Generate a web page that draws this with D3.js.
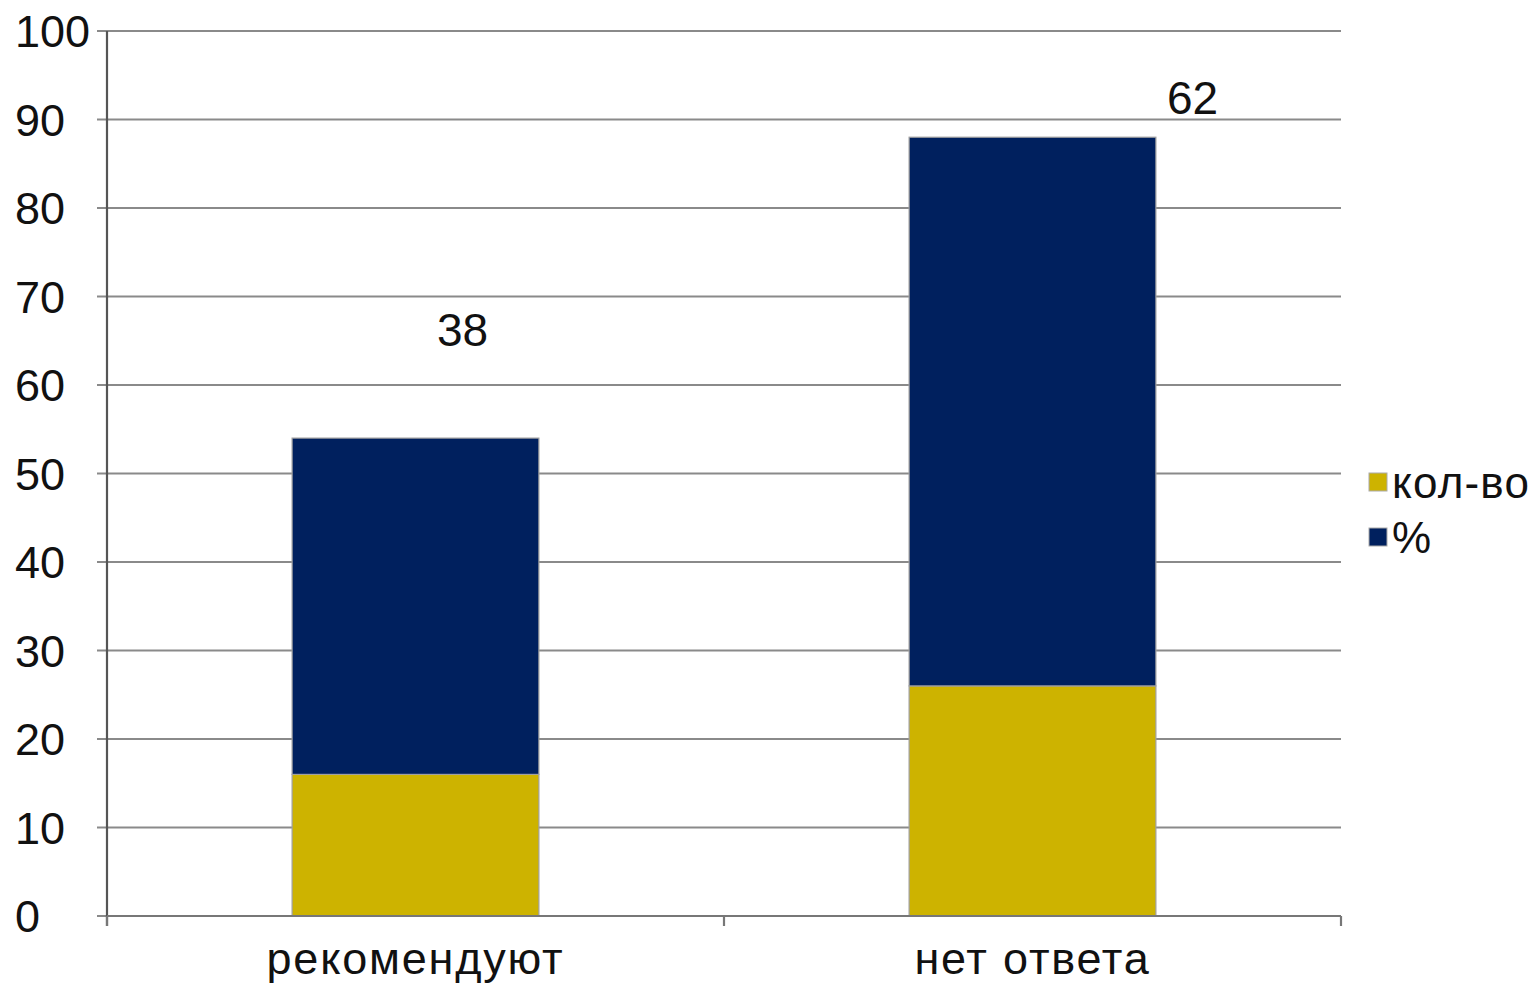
<!DOCTYPE html>
<html><head><meta charset="utf-8">
<script src="https://cdn.jsdelivr.net/npm/d3@7"></script>
<style>html,body{margin:0;padding:0;background:#fff;}svg{display:block;}</style>
</head><body>
<svg id="c" width="1539" height="984"></svg>
<script>
const categories = ["рекомендуют", "нет ответа"];
const seriesNames = ["кол-во", "%"];
const kolvo = [16, 26];
const percent = [38, 62];
const yTicks = [0, 10, 20, 30, 40, 50, 60, 70, 80, 90, 100];

const colors = {"кол-во": "#CDB300", "%": "#00205E"};
const font = "'Liberation Sans', Arial, sans-serif";
const mLeft = 107, mRight = 1341, mTop = 31, mBottom = 916;

const svg = d3.select("#c");
const x = d3.scaleBand().domain(categories).range([mLeft, mRight]).paddingInner(0).paddingOuter(0);
const y = d3.scaleLinear().domain([0, 100]).range([mBottom, mTop]);

// gridlines
svg.append("g").selectAll("line").data(yTicks).join("line")
  .attr("x1", mLeft - 10).attr("x2", mRight)
  .attr("y1", d => y(d)).attr("y2", d => y(d))
  .attr("stroke", "#8a8a8a").attr("stroke-width", 2.2);

// y tick labels (left aligned)
svg.append("g").selectAll("text").data(yTicks).join("text")
  .attr("x", 15).attr("y", d => y(d)).attr("dy", "0.36em")
  .attr("font-family", font).attr("font-size", 45).attr("fill", "#111")
  .text(d => d);

// stacked bars
const rows = categories.map((c, i) => ({cat: c, "кол-во": kolvo[i], "%": percent[i]}));
const stack = d3.stack().keys(seriesNames)(rows);
const bw = x.bandwidth() * 0.4;
svg.append("g").selectAll("g").data(stack).join("g")
  .attr("fill", d => colors[d.key])
  .selectAll("rect").data(d => d).join("rect")
  .attr("x", d => x(d.data.cat) + (x.bandwidth() - bw) / 2)
  .attr("width", bw)
  .attr("y", d => y(d[1]))
  .attr("height", d => y(d[0]) - y(d[1]))
  .attr("stroke", "#a0a0a0").attr("stroke-width", 1.2);

// axes lines
svg.append("line").attr("x1", mLeft).attr("x2", mLeft).attr("y1", mTop).attr("y2", mBottom + 10)
  .attr("stroke", "#555").attr("stroke-width", 2.2);
svg.append("line").attr("x1", mLeft).attr("x2", mRight).attr("y1", mBottom).attr("y2", mBottom)
  .attr("stroke", "#777").attr("stroke-width", 2.2);
const xTickPos = [mLeft, mLeft + x.bandwidth(), mRight];
svg.append("g").selectAll("line").data(xTickPos).join("line")
  .attr("x1", d => d).attr("x2", d => d).attr("y1", mBottom).attr("y2", mBottom + 10)
  .attr("stroke", "#777").attr("stroke-width", 2.2);

// category labels
svg.append("g").selectAll("text").data(categories).join("text")
  .attr("x", d => x(d) + x.bandwidth() / 2).attr("y", 974)
  .attr("text-anchor", "middle")
  .attr("font-family", font).attr("font-size", 45).attr("letter-spacing", 1.8).attr("fill", "#111")
  .text(d => d);

// data labels (positioned as in the original chart)
const labelDx = [47, 160];
const labelVal = [66.3, 92.5];
svg.append("g").selectAll("text").data(percent).join("text")
  .attr("x", (d, i) => x(categories[i]) + x.bandwidth() / 2 + labelDx[i])
  .attr("y", (d, i) => y(labelVal[i])).attr("dy", "0.36em")
  .attr("text-anchor", "middle")
  .attr("font-family", font).attr("font-size", 46).attr("fill", "#111")
  .text(d => d);

// legend
const lg = svg.append("g").selectAll("g").data(seriesNames).join("g")
  .attr("transform", (d, i) => `translate(1369, ${482 + i * 55})`);
lg.append("rect").attr("x", 0).attr("y", -9).attr("width", 18).attr("height", 18)
  .attr("fill", d => colors[d]).attr("stroke", "#aaa").attr("stroke-width", 1);
lg.append("text").attr("x", 23).attr("y", 0).attr("dy", "0.36em")
  .attr("font-family", font).attr("font-size", 44).attr("letter-spacing", 1.2).attr("fill", "#111")
  .text(d => d);
</script>
</body></html>
